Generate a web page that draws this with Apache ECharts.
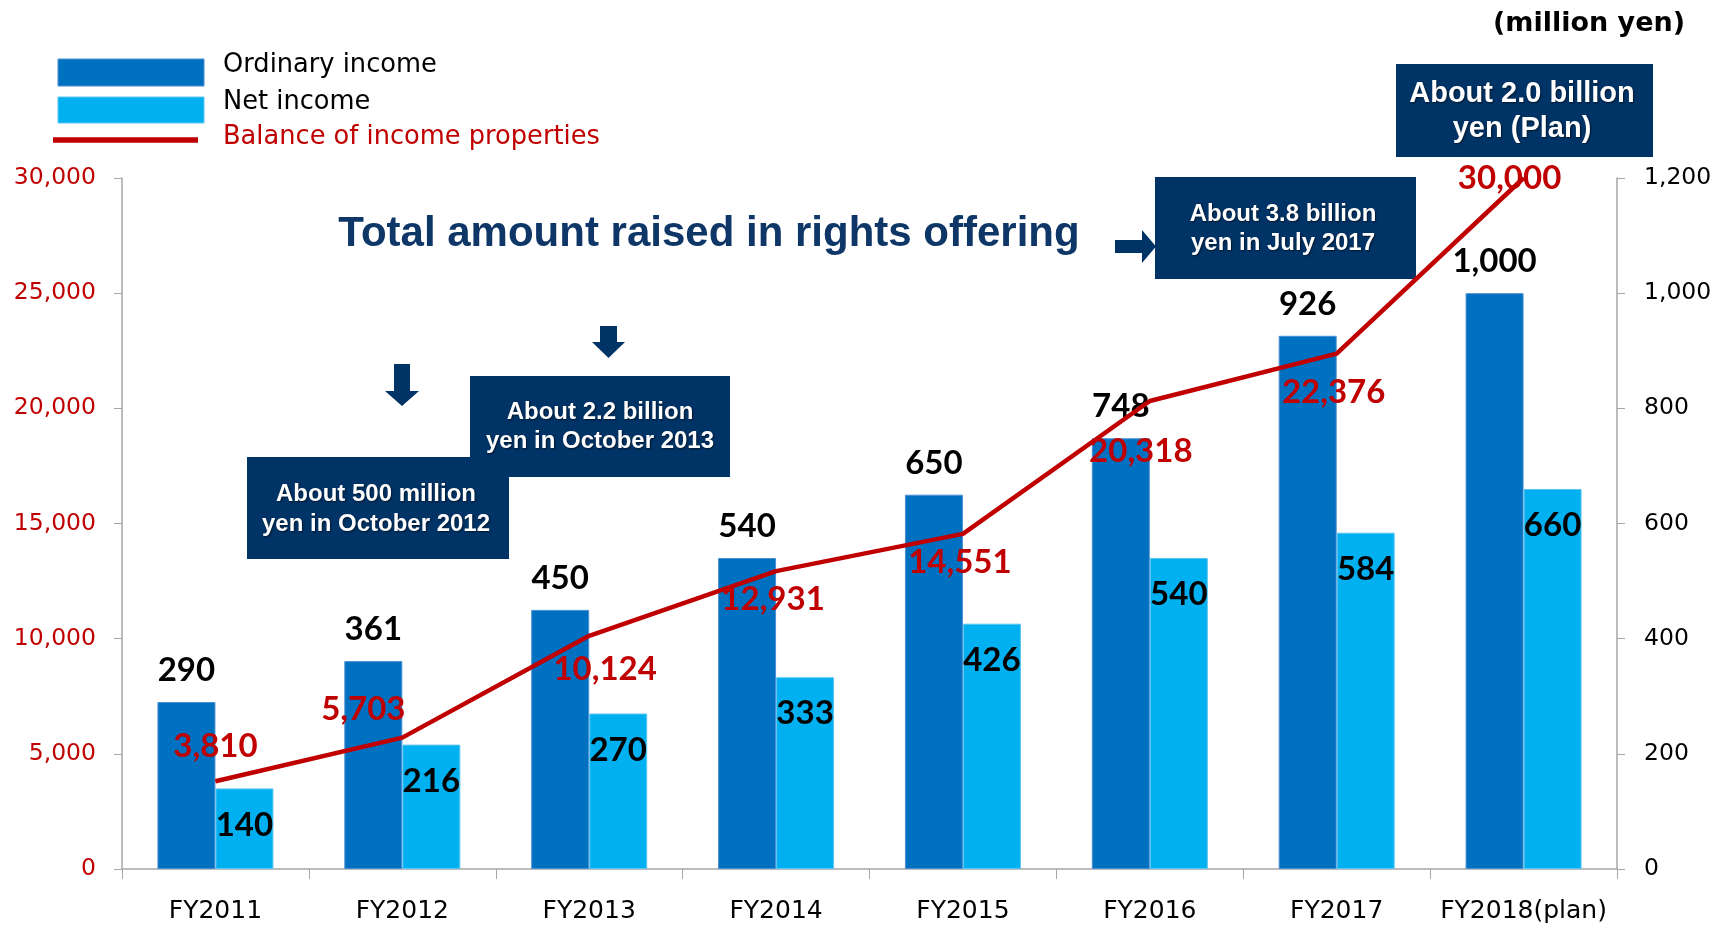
<!DOCTYPE html>
<html><head><meta charset="utf-8">
<script src="https://cdn.jsdelivr.net/npm/echarts@6/dist/echarts.min.js"></script>
<style>html,body{margin:0;padding:0;background:#fff}#c{width:1725px;height:930px}</style>
</head><body><div id="c"></div>
<script>
// ---- data ----
const categories = ['FY2011','FY2012','FY2013','FY2014','FY2015','FY2016','FY2017','FY2018(plan)'];
const ordinaryIncome = [290, 361, 450, 540, 650, 748, 926, 1000];
const netIncome = [140, 216, 270, 333, 426, 540, 584, 660];
const incomeProperties = [3810, 5703, 10124, 12931, 14551, 20318, 22376, 30000];
const leftAxisRange = [0, 30000, 5000];
const rightAxisRange = [0, 1200, 200];
const seriesNames = ['Ordinary income', 'Net income', 'Balance of income properties'];

// ---- label placement (styling, not data) ----
const lineLabelOffsets = [[0,-35],[-39,-28],[16,34],[-3,28],[-3,29],[-9,50],[-3,39],[-14,0]];

const fmt = v => String(v).replace(/\B(?=(\d{3})+(?!\d))/g, ',');
const NAVY = '#003366';
const RED = '#C00000';
const AXIS = '#A6A6A6';
const C_ORD = '#0070C0';
const C_NET = '#00B0F0';
const labelFont = {fontFamily:'Lato', fontWeight:'bold', fontSize:33};

const chart = echarts.init(document.getElementById('c'), null, {renderer:'canvas'});

function box(x, y, w, h, text, cx, cy, fs, lh) {
  return {
    type:'group', children:[
      {type:'rect', shape:{x:x, y:y, width:w, height:h}, style:{fill:NAVY}},
      {type:'text', x:cx, y:cy, style:{text:text, fill:'#fff', font:'bold '+fs+'px "Liberation Sans", Arial, sans-serif',
        lineHeight:lh, textAlign:'center', textVerticalAlign:'middle',
        textShadowColor:'rgba(0,0,0,0.55)', textShadowBlur:2, textShadowOffsetX:1, textShadowOffsetY:1}}
    ]
  };
}
function poly(points) {
  return {type:'polygon', shape:{points:points}, style:{fill:NAVY}};
}
function legText(t, y, color) {
  return {type:'text', x:223, y:y, style:{text:t, fill:color, font:'25.7px "DejaVu Sans", sans-serif', textAlign:'left', textVerticalAlign:'middle'}};
}

const option = {
  animation:false,
  backgroundColor:'#fff',
  textStyle:{fontFamily:'DejaVu Sans'},
  grid:{left:122, right:108, top:178, bottom:61},
  xAxis:{
    type:'category', data:categories,
    axisLine:{lineStyle:{color:AXIS, width:1.5}},
    axisTick:{show:true, interval:0, length:10, lineStyle:{color:AXIS}},
    axisLabel:{interval:0, fontSize:25, color:'#000', margin:30, fontFamily:'DejaVu Sans'}
  },
  yAxis:[
    {type:'value', position:'left', min:leftAxisRange[0], max:leftAxisRange[1], interval:leftAxisRange[2],
     axisLine:{show:true, lineStyle:{color:AXIS, width:1.5}},
     axisTick:{show:true, length:8, lineStyle:{color:AXIS}},
     splitLine:{show:false},
     axisLabel:{color:RED, fontSize:23.5, margin:26, formatter:fmt}},
    {type:'value', position:'right', min:rightAxisRange[0], max:rightAxisRange[1], interval:rightAxisRange[2],
     axisLine:{show:true, lineStyle:{color:AXIS, width:1.5}},
     axisTick:{show:true, length:8, lineStyle:{color:AXIS}},
     splitLine:{show:false},
     axisLabel:{color:'#000', fontSize:23.5, margin:27, formatter:fmt}}
  ],
  series:[
    {name:seriesNames[0], type:'bar', yAxisIndex:1, data:ordinaryIncome,
     barWidth:58, barGap:'0%',
     itemStyle:{color:C_ORD, borderColor:'#4a8fd2', borderWidth:1},
     label:Object.assign({show:true, position:'top', distance:15, color:'#000', formatter:p=>fmt(p.value)}, labelFont)},
    {name:seriesNames[1], type:'bar', yAxisIndex:1, data:netIncome,
     barWidth:58, barGap:'0%',
     itemStyle:{color:C_NET, borderColor:'#5cc6f2', borderWidth:1},
     label:Object.assign({show:true, position:'insideTop', distance:20, color:'#000', formatter:p=>fmt(p.value)}, labelFont)},
    {name:seriesNames[2], type:'line', yAxisIndex:0,
     data:incomeProperties.map((v,i)=>({value:v, label:{offset:lineLabelOffsets[i]}})),
     symbol:'circle', symbolSize:1, showSymbol:true, z:5,
     itemStyle:{color:RED}, lineStyle:{color:RED, width:4.5},
     label:Object.assign({show:true, position:'inside', color:RED, formatter:p=>fmt(p.value)}, labelFont)}
  ],
  graphic:[
    // legend
    {type:'rect', shape:{x:58, y:59, width:146, height:27}, style:{fill:C_ORD, stroke:'#4a8fd2', lineWidth:1}},
    {type:'rect', shape:{x:58, y:97, width:146, height:26}, style:{fill:C_NET, stroke:'#5cc6f2', lineWidth:1}},
    {type:'line', shape:{x1:53, y1:140, x2:198, y2:140}, style:{stroke:RED, lineWidth:5.5}},
    legText(seriesNames[0], 65, '#000'),
    legText(seriesNames[1], 102, '#000'),
    legText(seriesNames[2], 137.5, RED),
    // texts & annotations
    {type:'text', x:1589, y:24, style:{text:'(million yen)', fill:'#000', font:'bold 27px "DejaVu Sans", sans-serif', textAlign:'center', textVerticalAlign:'middle'}},
    {type:'text', x:709, y:234, style:{text:'Total amount raised in rights offering', fill:'#0E3768', font:'bold 42px "Liberation Sans", Arial, sans-serif', textAlign:'center', textVerticalAlign:'middle'}},
    box(247, 457, 262, 102, 'About 500 million\nyen in October 2012', 376, 509, 24, 30),
    box(470, 376, 260, 101, 'About 2.2 billion\nyen in October 2013', 600, 427, 24, 29),
    box(1155, 177, 261, 102, 'About 3.8 billion\nyen in July 2017', 1283, 229, 24, 29),
    box(1396, 64, 257, 93, 'About 2.0 billion\nyen (Plan)', 1522, 111, 29, 35),
    poly([[394,364],[410,364],[410,391],[419,391],[402,406],[385,391],[394,391]]),
    poly([[600,326],[617,326],[617,342],[625,342],[608.5,358],[592,342],[600,342]]),
    poly([[1115,240],[1142,240],[1142,230],[1156,246.5],[1142,263],[1142,253],[1115,253]])
  ]
};
chart.setOption(option);
</script>
</body></html>
